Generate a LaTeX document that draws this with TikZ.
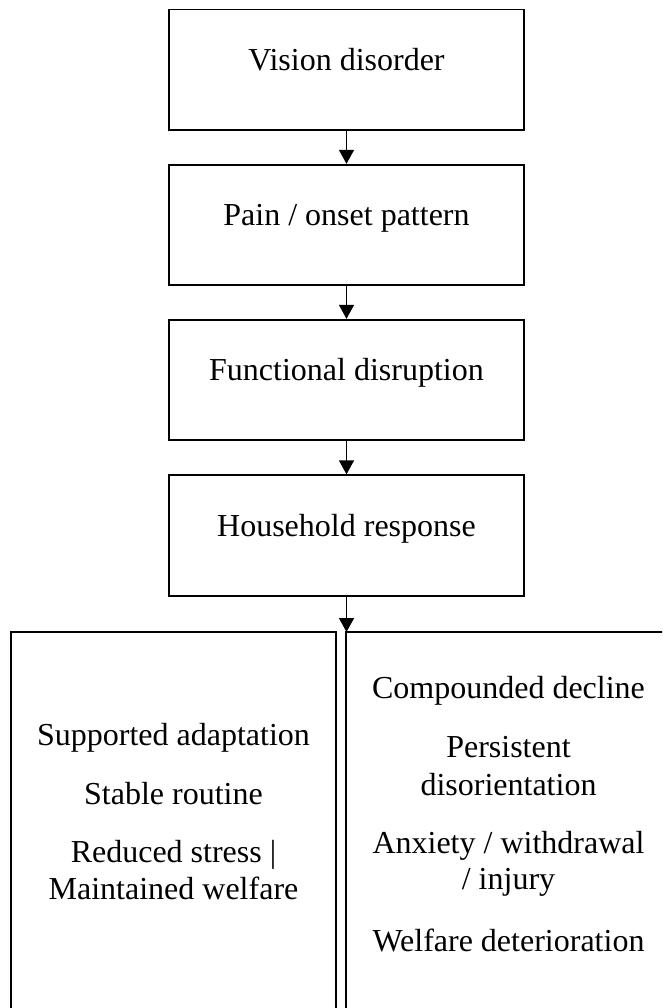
\documentclass[tikz,border=0pt]{standalone}
\usepackage{fontspec}
\setmainfont{Liberation Serif}
\usetikzlibrary{arrows.meta}
\tikzset{
  flowbox/.style={draw, line width=1.8pt, inner sep=0pt, minimum width=355pt, minimum height=120.5pt,
    font=\fontsize{32}{36.6}\selectfont, text height=12pt, text depth=10.5pt},
  outbox/.style={draw, line width=1.8pt, inner sep=0pt, minimum width=325pt, minimum height=382pt},
  line/.style={font=\fontsize{32}{36.6}\selectfont, anchor=base, inner sep=0pt},
  flowarrow/.style={line width=1.4pt, -{Triangle[width=15pt,length=14pt]}}
}
\begin{document}
\begin{tikzpicture}[x=1pt,y=-1pt]
\useasboundingbox (0,0) rectangle (662,1008);
\clip (0,0) rectangle (662,1008);
\node[flowbox] (b1) at (346.5,69.75) {Vision disorder};
\node[flowbox] (b2) at (346.5,225) {Pain / onset pattern};
\node[flowbox] (b3) at (346.5,380) {Functional disruption};
\node[flowbox] (b4) at (346.5,535.5) {Household response};
\node[outbox] (left) at (173.5,823) {};
\node[outbox] (right) at (508.5,823) {};
\coordinate (split) at (346.5,632);
\draw[flowarrow] (b1.south) -- (b2.north);
\draw[flowarrow] (b2.south) -- (b3.north);
\draw[flowarrow] (b3.south) -- (b4.north);
\draw[flowarrow] (b4.south) -- (split);
% left outcome texts
\node[line] (l1) at (173.5,745.5) {Supported adaptation};
\node[line] (l2) at (173.5,804) {Stable routine};
\node[line] (l3) at (173.5,862.5) {Reduced stress |};
\node[line] (l4) at (173.5,899) {Maintained welfare};
% right outcome texts
\node[line] (r1) at (508.5,698) {Compounded decline};
\node[line] (r2) at (508.5,757.5) {Persistent};
\node[line] (r3) at (508.5,795) {disorientation};
\node[line] (r4) at (508.5,853) {Anxiety / withdrawal};
\node[line] (r5) at (508.5,889) {/ injury};
\node[line] (r6) at (508.5,951) {Welfare deterioration};
\end{tikzpicture}
\end{document}
